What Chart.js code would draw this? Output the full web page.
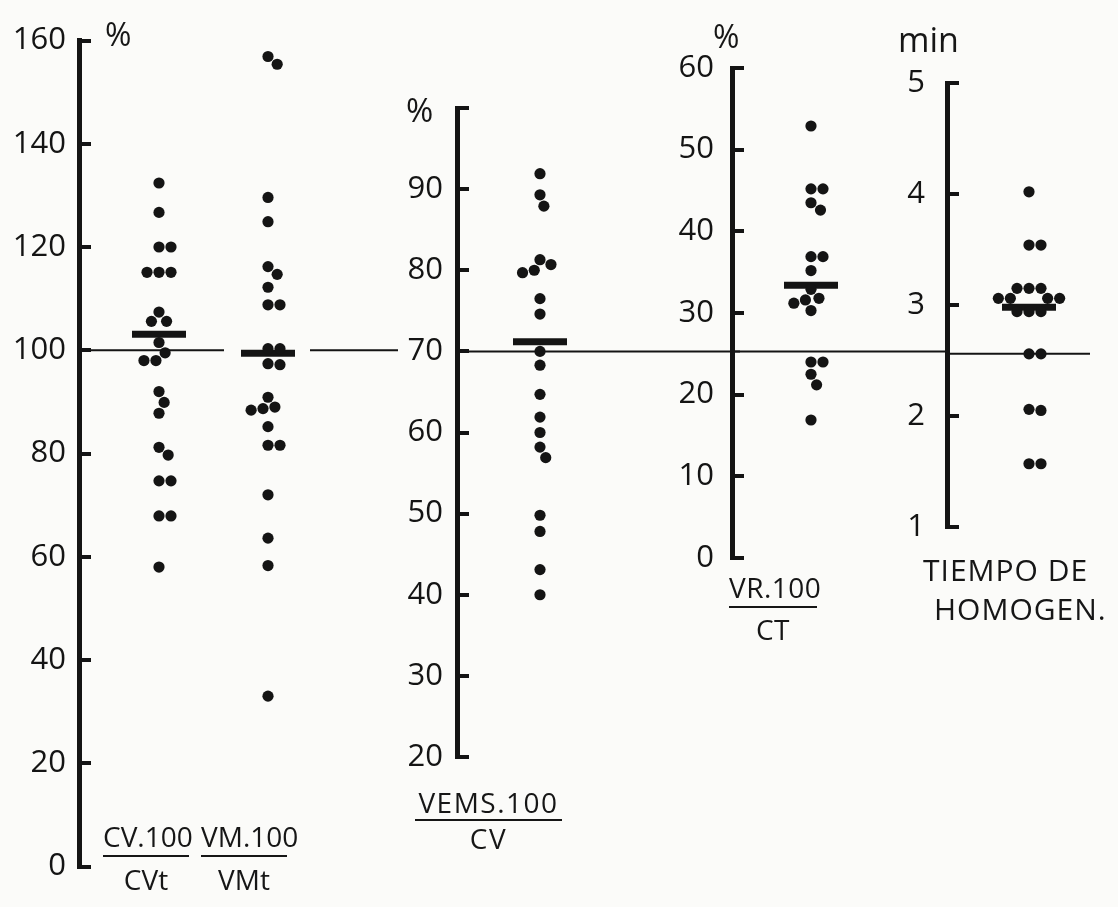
<!DOCTYPE html>
<html>
<head>
<meta charset="utf-8">
<script src="https://cdn.jsdelivr.net/npm/chart.js@4.4.1/dist/chart.umd.min.js"></script>
<style>
  html, body { margin: 0; padding: 0; background: #fbfbf9; }
  #page { position: relative; width: 1118px; height: 907px; overflow: hidden;
          font-family: "Open Sans", "DejaVu Sans", sans-serif; font-weight: 400; color: #161616; }
  canvas { position: absolute; top: 0; }
  .t { position: absolute; white-space: nowrap; line-height: 1; }
  .frac { position: absolute; text-align: center; line-height: 1; font-size: 28px; }
  .frac .bar { height: 2px; background: #161616; }
</style>
</head>
<body>
<div id="page">
  <canvas id="pA" width="400" height="907" style="left:0px"></canvas>
  <canvas id="pB" width="360" height="907" style="left:380px"></canvas>
  <canvas id="pC" width="300" height="907" style="left:650px"></canvas>
  <canvas id="pD" width="248" height="907" style="left:870px"></canvas>

  <div class="t" style="left:105px;top:18px;font-size:32px">%</div>
  <div class="t" style="left:406px;top:93px;font-size:33px">%</div>
  <div class="t" style="left:713px;top:20px;font-size:32px">%</div>
  <div class="t" style="left:898px;top:22px;font-size:34px">min</div>

  <div class="frac" style="left:103px;top:822px;width:86px">
    <div>CV.100</div><div class="bar" style="margin-top:5px"></div><div style="margin-top:8px">CVt</div>
  </div>
  <div class="frac" style="left:201px;top:822px;width:86px">
    <div>VM.100</div><div class="bar" style="margin-top:5px"></div><div style="margin-top:8px">VMt</div>
  </div>
  <div class="frac" style="left:415px;top:788px;width:147px;letter-spacing:1.5px">
    <div>VEMS.100</div><div class="bar" style="margin-top:3px"></div><div style="margin-top:3px">CV</div>
  </div>
  <div class="frac" style="left:729px;top:573px;width:88px;letter-spacing:0.5px">
    <div>VR.100</div><div class="bar" style="margin-top:5px"></div><div style="margin-top:7px">CT</div>
  </div>
  <div class="t" style="left:923px;top:555px;font-size:30px;letter-spacing:1px">TIEMPO DE</div>
  <div class="t" style="left:934px;top:594px;font-size:30px;letter-spacing:1px">HOMOGEN.</div>
</div>

<script>
// Individual values per index (one dot each)
const cvRatio   = [132.4, 126.7, 120.0, 120.0, 115.1, 115.1, 115.1, 113.4, 113.1, 107.4, 105.6, 105.6, 101.5,
                   99.5, 98.0, 98.0, 92.0, 89.9, 87.8, 81.2, 79.7, 74.7, 74.7, 67.9, 67.9, 58.0];
const vmRatio   = [156.9, 155.4, 129.6, 124.9, 116.2, 114.7, 112.2, 108.8, 108.8, 100.3, 100.3, 97.4, 97.2,
                   90.9, 89.0, 88.7, 88.4, 85.2, 81.6, 81.6, 72.0, 71.3, 63.6, 58.3, 33.0];
const vemsRatio = [91.9, 89.3, 87.9, 81.3, 80.7, 80.0, 79.7, 79.2, 78.6, 78.3, 76.5, 76.1, 74.6, 70.0, 68.3,
                   68.2, 67.4, 64.7, 61.9, 60.0, 58.2, 56.9, 49.8, 47.8, 43.1, 40.0];
const vrRatio   = [52.9, 45.2, 45.2, 43.5, 42.6, 36.9, 36.9, 35.2, 35.1, 32.9, 31.8, 31.6, 31.2, 30.3,
                   24.0, 24.0, 22.5, 21.2, 16.9];
const homogTime = [4.02, 3.54, 3.54, 3.15, 3.15, 3.15, 3.06, 3.06, 3.06, 3.06, 2.94, 2.94, 2.94,
                   2.56, 2.56, 2.49, 2.06, 2.05, 1.57, 1.57];

// Group means (horizontal bars): CV, VM, VEMS, VR, time
const groupMeans = [103.1, 99.4, 71.2, 33.4, 2.98];

// Normal reference level on each axis (one common horizontal line)
const referenceLevels = [100, 70, 25.3, 2.56];

// Axis tick values and which of them carry a label
const ticksPctA   = [0, 20, 40, 60, 80, 100, 120, 140, 160];
const ticksVems   = [20, 30, 40, 50, 60, 70, 80, 90, 100];
const labelsVems  = [20, 30, 40, 50, 60, 70, 80, 90];
const ticksVr     = [0, 10, 20, 30, 40, 50, 60];
const ticksTime   = [1, 2, 3, 4, 5];

const INK = '#141414';
const FONT = '"Open Sans", "DejaVu Sans", sans-serif';
const PAGE_H = 907;

// Panel layout (page pixel units on the x scale)
const panels = [
  { id: 'pA', left: 0,   width: 400, axisX: 79,  top: 26,  bottom: 890, min: 0,  max: 160,
    ticks: ticksPctA, labels: ticksPctA, gap: 13,
    columns: [{ values: cvRatio, mean: groupMeans[0], cx: 159 },
              { values: vmRatio, mean: groupMeans[1], cx: 268 }],
    ref: referenceLevels[0], refSegments: [[79, 224], [310, 398]] },
  { id: 'pB', left: 380, width: 360, axisX: 457, top: 108, bottom: 757, min: 20, max: 100,
    ticks: ticksVems, labels: labelsVems, gap: 14,
    columns: [{ values: vemsRatio, mean: groupMeans[2], cx: 540 }],
    ref: referenceLevels[1], refSegments: [[457, 740]] },
  { id: 'pC', left: 650, width: 300, axisX: 732, top: 68,  bottom: 558, min: 0,  max: 60,
    ticks: ticksVr, labels: ticksVr, gap: 18,
    columns: [{ values: vrRatio, mean: groupMeans[3], cx: 811 }],
    ref: referenceLevels[2], refSegments: [[732, 950]] },
  { id: 'pD', left: 870, width: 248, axisX: 947, top: 83,  bottom: 527, min: 1,  max: 5,
    ticks: ticksTime, labels: ticksTime, gap: 22,
    columns: [{ values: homogTime, mean: groupMeans[4], cx: 1029 }],
    ref: referenceLevels[3], refSegments: [[947, 1090]] }
];

// Beeswarm: stack dots sideways so they don't overlap, nearest to the column centre first
function swarm(values, yScale, cx, d) {
  const order = values.map((v, i) => i).sort((a, b) => values[b] - values[a]);
  const placed = [];
  const xs = new Array(values.length);
  for (const i of order) {
    const py = yScale.getPixelForValue(values[i]);
    const near = placed.filter(p => Math.abs(p.py - py) < d);
    const cands = [0];
    near.forEach(p => {
      const dx = Math.sqrt(d * d - (p.py - py) * (p.py - py));
      cands.push(Math.round((p.dx + dx) * 100) / 100, Math.round((p.dx - dx) * 100) / 100);
    });
    const ok = cands.filter(c => near.every(p => (p.dx - c) ** 2 + (p.py - py) ** 2 >= d * d - 0.05));
    ok.sort((a, b) => (Math.abs(a) - Math.abs(b)) || (b - a));
    placed.push({ dx: ok[0], py });
    xs[i] = cx + ok[0];
  }
  return xs;
}

function buildPanel(p) {
  const datasets = [];
  p.columns.forEach(col => {
    datasets.push({
      type: 'scatter',
      data: col.values.map(v => ({ x: col.cx, y: v })),
      pointRadius: 5.6, pointBackgroundColor: INK, pointBorderWidth: 0, clip: false
    });
  });
  p.columns.forEach(col => {
    datasets.push({
      type: 'scatter',
      data: [{ x: col.cx, y: col.mean }],
      pointStyle: 'line', pointRadius: 27, pointBorderWidth: 7, pointBorderColor: INK, clip: false
    });
  });
  const refData = [];
  p.refSegments.forEach((s, i) => {
    if (i) refData.push({ x: (p.refSegments[i - 1][1] + s[0]) / 2, y: null });
    refData.push({ x: s[0], y: p.ref }, { x: s[1], y: p.ref });
  });
  datasets.push({
    type: 'line', data: refData, borderColor: INK, borderWidth: 2, pointRadius: 0,
    showLine: true, spanGaps: false, fill: false, clip: false
  });

  const chart = new Chart(document.getElementById(p.id), {
    type: 'scatter',
    data: { datasets },
    options: {
      responsive: false, animation: false, events: [],
      layout: { autoPadding: false, padding: { top: p.top, bottom: PAGE_H - p.bottom, left: 0, right: 0 } },
      plugins: { legend: { display: false }, tooltip: { enabled: false } },
      scales: {
        x: { type: 'linear', display: false, min: p.axisX, max: p.left + p.width },
        y: {
          type: 'linear', min: p.min, max: p.max,
          afterFit(s) { s.width = p.axisX - p.left; },
          afterBuildTicks(s) { s.ticks = p.ticks.map(v => ({ value: v })); },
          ticks: {
            autoSkip: false, padding: 12 + p.gap, color: INK,
            font: { family: FONT, size: 31, weight: '400', lineHeight: 1 },
            callback: v => (p.labels.includes(v) ? String(v) : '')
          },
          grid: { drawOnChartArea: false, drawTicks: true, tickLength: -12,
                  tickWidth: 4, tickColor: INK, lineWidth: 4, color: INK },
          border: { display: true, width: 5, color: INK }
        }
      }
    }
  });

  p.columns.forEach((col, k) => {
    const xs = swarm(col.values, chart.scales.y, col.cx, 12);
    chart.data.datasets[k].data = col.values.map((v, i) => ({ x: xs[i], y: v }));
  });
  chart.update('none');
  return chart;
}

panels.forEach(buildPanel);
</script>
</body>
</html>
